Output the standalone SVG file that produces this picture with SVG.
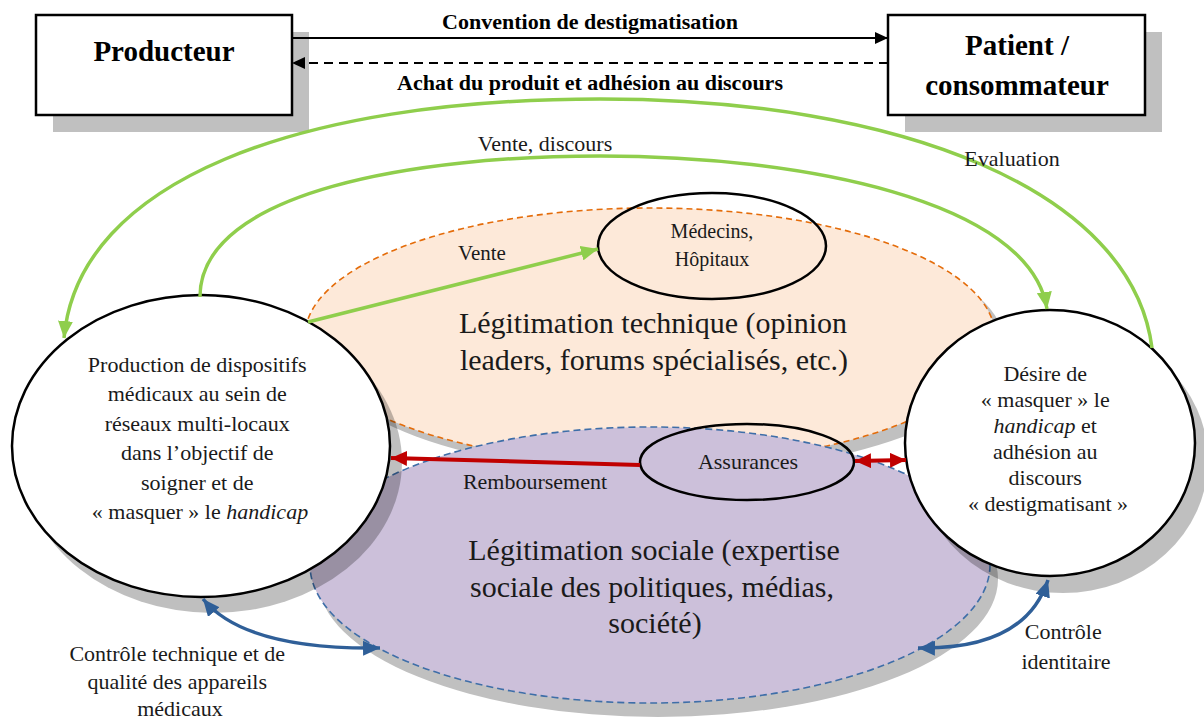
<svg xmlns="http://www.w3.org/2000/svg" width="1204" height="719" viewBox="0 0 1204 719">
  <defs>
    <style>
      .t { font-family: "Liberation Serif", "Times New Roman", "DejaVu Serif", serif; fill: #1a1a1a; text-anchor: middle; }
      .tb { font-weight: bold; fill: #000; }
      .box { fill: #fff; stroke: #000; stroke-width: 2.5; }
      .boxsh { fill: #c0c0c0; }
      .ring { fill: #fff; stroke: #000; stroke-width: 2.5; }
      .ringsh { fill: #000; opacity: 0.25; }
      .sub { fill: none; stroke: #000; stroke-width: 2.5; }
      .green { fill: none; stroke: #8fce4c; stroke-width: 3.5; }
      .red { fill: none; stroke: #c00000; stroke-width: 4; }
      .blue { fill: none; stroke: #2f5f98; stroke-width: 3.5; }
    </style>
    <marker id="mBlack" markerUnits="userSpaceOnUse" markerWidth="13" markerHeight="12" refX="13" refY="6" orient="auto">
      <path d="M0,0 L13,6 L0,12 z" fill="#000"/>
    </marker>
    <marker id="mGreen" markerUnits="userSpaceOnUse" markerWidth="17" markerHeight="15" refX="17" refY="7.5" orient="auto">
      <path d="M0,0 L17,7.5 L0,15 z" fill="#8fce4c"/>
    </marker>
    <marker id="mRed" markerUnits="userSpaceOnUse" markerWidth="16" markerHeight="15" refX="16" refY="7.5" orient="auto-start-reverse">
      <path d="M0,0 L16,7.5 L0,15 z" fill="#c00000"/>
    </marker>
    <marker id="mBlue" markerUnits="userSpaceOnUse" markerWidth="17" markerHeight="15" refX="17" refY="7.5" orient="auto-start-reverse">
      <path d="M0,0 L17,7.5 L0,15 z" fill="#2f5f98"/>
    </marker>
  </defs>

  <rect width="1204" height="719" fill="#fff"/>

  <!-- actors -->
  <g id="producteur">
    <rect class="boxsh" x="53" y="32" width="256" height="100"/>
    <rect class="box" x="36" y="15" width="256" height="100"/>
    <text class="t tb" x="164" y="61" font-size="29">Producteur</text>
  </g>
  <g id="patient">
    <rect class="boxsh" x="905" y="32" width="257" height="100"/>
    <rect class="box" x="888" y="15" width="257" height="100"/>
    <text class="t tb" x="1017" y="55" font-size="29">Patient /</text>
    <text class="t tb" x="1017" y="95" font-size="29">consommateur</text>
  </g>

  <!-- legitimation areas -->
  <g id="legitimation-technique">
    <ellipse cx="660" cy="346" rx="345" ry="128" fill="#c0c0c0"/>
    <ellipse cx="650" cy="336" rx="345" ry="128" fill="#fde9d9" stroke="#e46c0a" stroke-width="1.6" stroke-dasharray="6 4"/>
    <text class="t" x="653" y="333" font-size="30">Légitimation technique (opinion</text>
    <text class="t" x="654" y="370" font-size="30">leaders, forums spécialisés, etc.)</text>
  </g>
  <g id="legitimation-sociale">
    <ellipse cx="658" cy="579" rx="340" ry="138" fill="#c0c0c0"/>
    <ellipse cx="650" cy="565" rx="340" ry="138" fill="#ccc0da" stroke="#3e6ea8" stroke-width="1.6" stroke-dasharray="7 4"/>
    <text class="t" x="654" y="560" font-size="30">Légitimation sociale (expertise</text>
    <text class="t" x="652" y="597" font-size="30">sociale des politiques, médias,</text>
    <text class="t" x="655" y="633" font-size="30">société)</text>
  </g>

  <!-- main poles -->
  <g id="production">
    <ellipse class="ringsh" cx="213" cy="462" rx="189" ry="151"/>
    <ellipse class="ring" cx="201" cy="446" rx="189" ry="151"/>
    <text class="t" font-size="22">
      <tspan x="200" y="372">Production de dispositifs</tspan>
      <tspan x="200" y="401">médicaux au sein de</tspan>
      <tspan x="200" y="431">réseaux multi-locaux</tspan>
      <tspan x="200" y="460">dans l’objectif de</tspan>
      <tspan x="200" y="490">soigner et de</tspan>
      <tspan x="200" y="519">« masquer » le <tspan font-style="italic">handicap</tspan></tspan>
    </text>
  </g>
  <g id="desir">
    <ellipse class="ringsh" cx="1063" cy="460" rx="145" ry="133"/>
    <ellipse class="ring" cx="1050" cy="443" rx="145" ry="133"/>
    <text class="t" font-size="22">
      <tspan x="1048" y="381">Désire de</tspan>
      <tspan x="1048" y="407">« masquer » le</tspan>
      <tspan x="1048" y="433"><tspan font-style="italic">handicap</tspan> et</tspan>
      <tspan x="1048" y="459">adhésion au</tspan>
      <tspan x="1048" y="485">discours</tspan>
      <tspan x="1048" y="511">« destigmatisant »</tspan>
    </text>
  </g>

  <!-- intermediaries -->
  <g id="medecins">
    <ellipse class="sub" cx="712" cy="246" rx="114" ry="53"/>
    <text class="t" x="712" y="238" font-size="20">Médecins,</text>
    <text class="t" x="712" y="266" font-size="20">Hôpitaux</text>
  </g>
  <g id="assurances">
    <ellipse class="sub" cx="747" cy="462" rx="107" ry="38"/>
    <text class="t" x="748" y="469" font-size="22">Assurances</text>
  </g>

  <!-- connectors -->
  <g id="connectors">
    <line x1="292" y1="38" x2="888" y2="38" stroke="#000" stroke-width="2" marker-end="url(#mBlack)"/>
    <line x1="888" y1="63" x2="292" y2="63" stroke="#000" stroke-width="2" stroke-dasharray="9 6" marker-end="url(#mBlack)"/>
    <text class="t tb" x="590" y="29" font-size="22">Convention de destigmatisation</text>
    <text class="t tb" x="590" y="90" font-size="22">Achat du produit et adhésion au discours</text>

    <path class="green" d="M1152 348 C1132 190 900 99 600 99 C300 99 78 180 64 338" marker-end="url(#mGreen)"/>
    <text class="t" x="1012" y="166" font-size="22">Evaluation</text>

    <path class="green" d="M200 297 C200 190 420 156 600 156 C800 156 1030 200 1047 309" marker-end="url(#mGreen)"/>
    <text class="t" x="545" y="151" font-size="22">Vente, discours</text>

    <line class="green" x1="308" y1="322" x2="598" y2="249" marker-end="url(#mGreen)"/>
    <text class="t" x="482" y="260" font-size="21">Vente</text>

    <line class="red" x1="640" y1="465" x2="391" y2="458" marker-end="url(#mRed)"/>
    <text class="t" x="535" y="489" font-size="22">Remboursement</text>
    <line class="red" x1="855" y1="461" x2="906" y2="460" marker-start="url(#mRed)" marker-end="url(#mRed)"/>

    <path class="blue" d="M203 599 Q245 650 380 648" marker-start="url(#mBlue)" marker-end="url(#mBlue)"/>
    <text class="t" font-size="22">
      <tspan x="180" y="661">Contrôle technique et de</tspan>
      <tspan x="180" y="689">qualité des appareils</tspan>
      <tspan x="180" y="716">médicaux</tspan>
    </text>
    <path class="blue" d="M1048 580 Q1025 650 918 648" marker-start="url(#mBlue)" marker-end="url(#mBlue)"/>
    <text class="t" font-size="22">
      <tspan x="1066" y="639">Contrôle</tspan>
      <tspan x="1066" y="669">identitaire</tspan>
    </text>
  </g>
</svg>
